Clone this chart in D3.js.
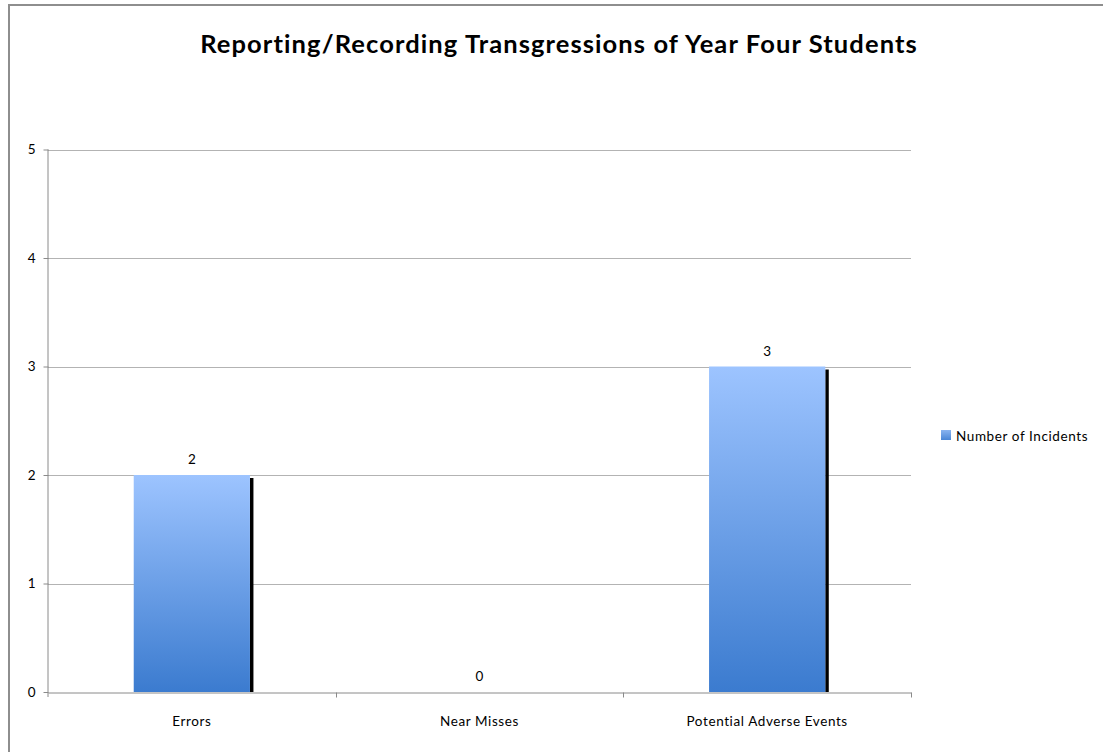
<!DOCTYPE html>
<html>
<head>
<meta charset="utf-8">
<script src="https://cdn.jsdelivr.net/npm/d3@7"></script>
<style>
  body { margin: 0; background: #fff; }
  svg { display: block; }
  text { font-family: Lato, "Open Sans", sans-serif; fill: #000; }
</style>
</head>
<body>
<svg width="1103" height="752"></svg>
<script>
var categories = ['Errors', 'Near Misses', 'Potential Adverse Events'],
    values = [2, 0, 3],
    yTicks = [0, 1, 2, 3, 4, 5],
    seriesName = 'Number of Incidents',
    title = 'Reporting/Recording Transgressions of Year Four Students'

var svg = d3.select('svg'),
    margin = {left: 48, top: 149.5, right: 911, bottom: 692},
    smallFont = 13.5,
    smallSpacing = '0.6px'

// chart frame (only top/left edges are visible in the crop)
svg.append('path')
    .attr('d', 'M9,760V5H1110')
    .attr('fill', 'none')
    .attr('stroke', '#8e8e8e')
    .attr('stroke-width', 2)

var x = d3.scaleBand()
    .domain(categories)
    .range([margin.left, margin.right])

var y = d3.scaleLinear()
    .domain([0, 5])
    .range([margin.bottom, margin.top])

var defs = svg.append('defs')
var grad = defs.append('linearGradient')
    .attr('id', 'barGrad')
    .attr('x1', 0).attr('y1', 0).attr('x2', 0).attr('y2', 1)
grad.append('stop').attr('offset', '0%').attr('stop-color', '#9dc4ff')
grad.append('stop').attr('offset', '100%').attr('stop-color', '#3b7bcf')

var legGrad = defs.append('linearGradient')
    .attr('id', 'legGrad')
    .attr('x1', 0).attr('y1', 0).attr('x2', 0).attr('y2', 1)
legGrad.append('stop').attr('offset', '0%').attr('stop-color', '#8ab4f0')
legGrad.append('stop').attr('offset', '100%').attr('stop-color', '#4a86d6')

// gridlines
svg.append('g')
    .selectAll('line')
    .data(yTicks.filter(d=>d > 0))
    .enter().append('line')
    .attr('x1', margin.left).attr('x2', margin.right)
    .attr('y1', d=>Math.round(y(d)) + 0.5).attr('y2', d=>Math.round(y(d)) + 0.5)
    .attr('stroke', '#b3b3b3')
    .attr('stroke-width', 1)

// bars
var barW = x.bandwidth() * 0.404
var bars = svg.append('g')
    .selectAll('g')
    .data(categories.map((c,i)=>({cat: c, val: values[i]})))
    .enter().append('g')

bars.filter(d=>d.val > 0).append('rect')
    .attr('x', d=>x(d.cat) + x.bandwidth()/2 - barW/2 + barW)
    .attr('y', d=>y(d.val) + 3)
    .attr('width', 3.5)
    .attr('height', d=>y(0) - y(d.val) - 3)
    .attr('fill', '#000')

bars.filter(d=>d.val > 0).append('rect')
    .attr('x', d=>x(d.cat) + x.bandwidth()/2 - barW/2)
    .attr('y', d=>y(d.val))
    .attr('width', barW)
    .attr('height', d=>y(0) - y(d.val))
    .attr('fill', 'url(#barGrad)')

bars.append('text')
    .attr('x', d=>x(d.cat) + x.bandwidth()/2)
    .attr('y', d=>y(d.val) - 11)
    .attr('text-anchor', 'middle')
    .attr('font-size', smallFont)
    .text(d=>d.val)

// y axis
var yAxis = svg.append('g')
    .attr('transform', `translate(${margin.left + 0.5},0)`)
    .call(d3.axisLeft(y).tickValues(yTicks).tickSize(5).tickPadding(8).tickFormat(d3.format('d')))
yAxis.select('.domain').attr('stroke', '#8a8a8a').attr('d', `M-0.5,${y(0) + 5}V${y(5)}`)
yAxis.selectAll('.tick line').attr('stroke', '#8a8a8a')
yAxis.selectAll('.tick text').attr('font-size', smallFont).attr('font-family', 'Lato, sans-serif').attr('fill', '#000')

// x axis
var xAxis = svg.append('g')
    .attr('transform', `translate(0,${Math.round(y(0)) + 0.5})`)
    .call(d3.axisBottom(x).tickSize(0).tickPadding(24))
xAxis.select('.domain').attr('stroke', '#8a8a8a')
xAxis.selectAll('.tick text')
    .attr('font-size', smallFont)
    .attr('font-family', 'Lato, sans-serif')
    .attr('letter-spacing', smallSpacing)
    .attr('fill', '#000')
xAxis.selectAll('.sep')
    .data(categories.slice(1).concat(['end']))
    .enter().append('line')
    .attr('x1', (d,i)=>Math.round(margin.left + x.step() * (i + 1)) + 0.5)
    .attr('x2', (d,i)=>Math.round(margin.left + x.step() * (i + 1)) + 0.5)
    .attr('y1', 0).attr('y2', 5)
    .attr('stroke', '#8a8a8a')

// legend
var legend = svg.append('g').attr('transform', 'translate(941,430)')
legend.append('rect')
    .attr('width', 10).attr('height', 10)
    .attr('fill', 'url(#legGrad)')
legend.append('text')
    .attr('x', 15).attr('y', 10.5)
    .attr('font-size', smallFont)
    .attr('letter-spacing', smallSpacing)
    .text(seriesName)

// title
svg.append('text')
    .attr('x', 559)
    .attr('y', 53)
    .attr('text-anchor', 'middle')
    .attr('font-size', 25.5)
    .attr('font-weight', 'bold')
    .attr('letter-spacing', '1.1px')
    .text(title)
</script>
</body>
</html>
